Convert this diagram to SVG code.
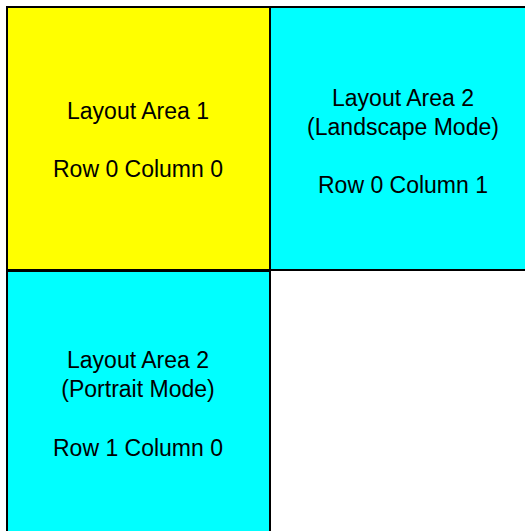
<svg xmlns="http://www.w3.org/2000/svg" width="525" height="531" viewBox="0 0 525 531">
<style>
.box{stroke:#000;stroke-width:2}
.t{font-family:"Liberation Sans",Arial,sans-serif;font-size:23px;fill:#000;text-anchor:middle}
</style>
<rect width="525" height="531" fill="#fff"/>
<g id="area1">
<rect class="box" x="7" y="7" width="263" height="263" fill="#ffff00"/>
<text class="t" x="138" y="119">Layout Area 1</text>
<text class="t" x="138" y="177">Row 0 Column 0</text>
</g>
<g id="area2-landscape">
<rect class="box" x="270" y="7" width="268" height="263" fill="#00ffff"/>
<text class="t" x="403" y="106">Layout Area 2</text>
<text class="t" x="403" y="135">(Landscape Mode)</text>
<text class="t" x="403" y="193">Row 0 Column 1</text>
</g>
<g id="area2-portrait">
<rect class="box" x="7" y="271" width="263" height="270" fill="#00ffff"/>
<text class="t" x="138" y="368">Layout Area 2</text>
<text class="t" x="138" y="397">(Portrait Mode)</text>
<text class="t" x="138" y="456">Row 1 Column 0</text>
</g>
<g id="connectors"/>
</svg>
